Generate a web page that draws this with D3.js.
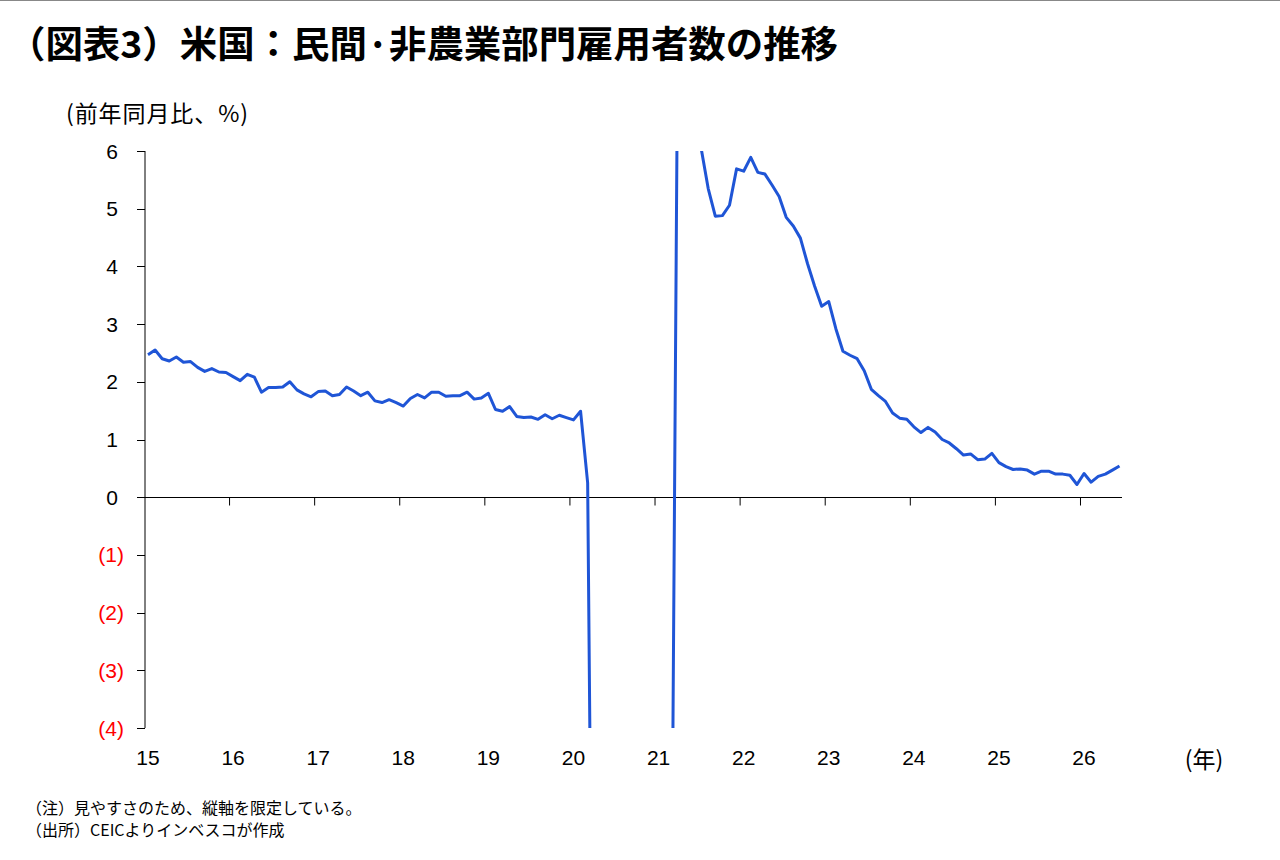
<!DOCTYPE html>
<html>
<head>
<meta charset="utf-8">
<script src="https://cdn.jsdelivr.net/npm/d3@7"></script>
<style>
  body { margin: 0; background: #fff; }
  svg { display: block; }
</style>
</head>
<body>
<div id="wrapper"></div>
<script>
// 2015-01 .. 2026-06, monthly, % yoy (Apr20-Mar21 sit below the clipped -4 floor)
const startYear = 2015;
const values = [
  2.47, 2.55, 2.40, 2.36, 2.43, 2.34, 2.35, 2.25, 2.18, 2.23, 2.17, 2.16,   // 2015
  2.09, 2.02, 2.13, 2.08, 1.82, 1.90, 1.90, 1.91, 2.00, 1.86, 1.79, 1.74,   // 2016
  1.83, 1.84, 1.76, 1.78, 1.91, 1.84, 1.76, 1.82, 1.67, 1.64, 1.69, 1.64,   // 2017
  1.58, 1.71, 1.78, 1.72, 1.82, 1.82, 1.75, 1.76, 1.76, 1.82, 1.70, 1.72,   // 2018
  1.80, 1.52, 1.49, 1.57, 1.40, 1.38, 1.39, 1.35, 1.43, 1.36, 1.42, 1.38,   // 2019
  1.34, 1.49, 0.25, -13.6, -11.6, -8.7, -7.6, -6.6, -6.1, -5.5, -5.3, -5.9, // 2020
  -6.0, -5.7, -4.5, 13.4, 11.1, 8.4, 6.05, 5.35, 4.87, 4.88, 5.06, 5.69,   // 2021
  5.65, 5.89, 5.63, 5.60, 5.41, 5.21, 4.85, 4.70, 4.49, 4.05, 3.66, 3.31,   // 2022
  3.39, 2.92, 2.53, 2.46, 2.40, 2.19, 1.87, 1.76, 1.66, 1.46, 1.37, 1.35,   // 2023
  1.22, 1.12, 1.21, 1.13, 1.00, 0.94, 0.84, 0.73, 0.75, 0.65, 0.66, 0.76,   // 2024
  0.60, 0.53, 0.48, 0.49, 0.47, 0.40, 0.45, 0.45, 0.40, 0.40, 0.38, 0.22,   // 2025
  0.41, 0.26, 0.36, 0.40, 0.47, 0.54                                        // 2026
];
const yTicks = [-4, -3, -2, -1, 0, 1, 2, 3, 4, 5, 6];
const yearLabels = ["15", "16", "17", "18", "19", "20", "21", "22", "23", "24", "25", "26"];

const titleText = "（図表3）米国：民間·非農業部門雇用者数の推移";
const yUnit = "(前年同月比、%)";
const xUnit = "(年)";
const notes = ["（注）見やすさのため、縦軸を限定している。", "（出所）CEICよりインベスコが作成"];

const width = 1280;
const height = 860;
const jp = "'Noto Sans CJK JP', 'Noto Sans', sans-serif";
const num = "'Liberation Sans', Arial, sans-serif";

const svg = d3.select("#wrapper")
  .append("svg")
  .attr("width", width)
  .attr("height", height);

// thin grey rule along the top edge
svg.append("line")
  .attr("x1", 0).attr("x2", width)
  .attr("y1", 0.5).attr("y2", 0.5)
  .attr("stroke", "#888").attr("stroke-width", 1);

svg.append("text")
  .attr("x", 8).attr("y", 58)
  .attr("font-family", jp)
  .attr("font-weight", 700)
  .attr("font-size", 37)
  .attr("textLength", 830)
  .attr("lengthAdjust", "spacingAndGlyphs")
  .attr("fill", "#000")
  .text(titleText);

const xScale = d3.scaleLinear()
  .domain([0, values.length - 1])
  .range([148, 1119.5]);

const yScale = d3.scaleLinear()
  .domain([-4, 6])
  .range([728, 151]);

const axisX = 145;
const plotRight = 1122;

// y axis
svg.append("line")
  .attr("x1", axisX).attr("x2", axisX)
  .attr("y1", yScale(6)).attr("y2", yScale(-4))
  .attr("stroke", "#000").attr("stroke-width", 1);

svg.selectAll(".ytick")
  .data(yTicks)
  .enter().append("line")
  .attr("x1", axisX - 8).attr("x2", axisX)
  .attr("y1", d => Math.round(yScale(d)) + 0.5)
  .attr("y2", d => Math.round(yScale(d)) + 0.5)
  .attr("stroke", "#000");

// positive numbers leave room for the closing paren, like "#,##0_);(#,##0)"
svg.selectAll(".ylab")
  .data(yTicks)
  .enter().append("text")
  .attr("x", d => d < 0 ? 124 : 118)
  .attr("y", d => yScale(d) + 7.5)
  .attr("text-anchor", "end")
  .attr("font-family", num)
  .attr("font-size", 21)
  .attr("fill", d => d < 0 ? "#ff0000" : "#000")
  .text(d => d < 0 ? "(" + (-d) + ")" : d);

// x axis along zero
const y0 = Math.round(yScale(0)) + 0.5;
svg.append("line")
  .attr("x1", axisX).attr("x2", plotRight)
  .attr("y1", y0).attr("y2", y0)
  .attr("stroke", "#000");

svg.selectAll(".xtick")
  .data(d3.range(1, yearLabels.length))
  .enter().append("line")
  .attr("x1", d => xScale(d * 12 - 0.5))
  .attr("x2", d => xScale(d * 12 - 0.5))
  .attr("y1", y0).attr("y2", y0 + 8)
  .attr("stroke", "#000");

svg.selectAll(".xlab")
  .data(yearLabels)
  .enter().append("text")
  .attr("x", (d, i) => xScale(i * 12))
  .attr("y", 765)
  .attr("text-anchor", "middle")
  .attr("font-family", num)
  .attr("font-size", 21)
  .attr("fill", "#000")
  .text(d => d);

svg.append("text")
  .attr("x", 1204).attr("y", 768)
  .attr("text-anchor", "middle")
  .attr("font-family", jp)
  .attr("font-size", 23)
  .text(xUnit);

svg.append("text")
  .attr("x", 66).attr("y", 122)
  .attr("font-family", jp)
  .attr("font-size", 23)
  .attr("textLength", 182)
  .text(yUnit);

// line, clipped to the plotted range
svg.append("clipPath").attr("id", "plot")
  .append("rect")
  .attr("x", axisX).attr("y", yScale(6))
  .attr("width", plotRight - axisX)
  .attr("height", yScale(-4) - yScale(6));

const line = d3.line()
  .x((d, i) => xScale(i))
  .y(d => yScale(d));

svg.append("path")
  .datum(values)
  .attr("clip-path", "url(#plot)")
  .attr("fill", "none")
  .attr("stroke", "#1f55d6")
  .attr("stroke-width", 3)
  .attr("stroke-linejoin", "round")
  .attr("d", line);

svg.selectAll(".note")
  .data(notes)
  .enter().append("text")
  .attr("x", 26)
  .attr("y", (d, i) => 814 + i * 22)
  .attr("font-family", jp)
  .attr("font-size", 16)
  .attr("fill", "#000")
  .text(d => d);
</script>
</body>
</html>
